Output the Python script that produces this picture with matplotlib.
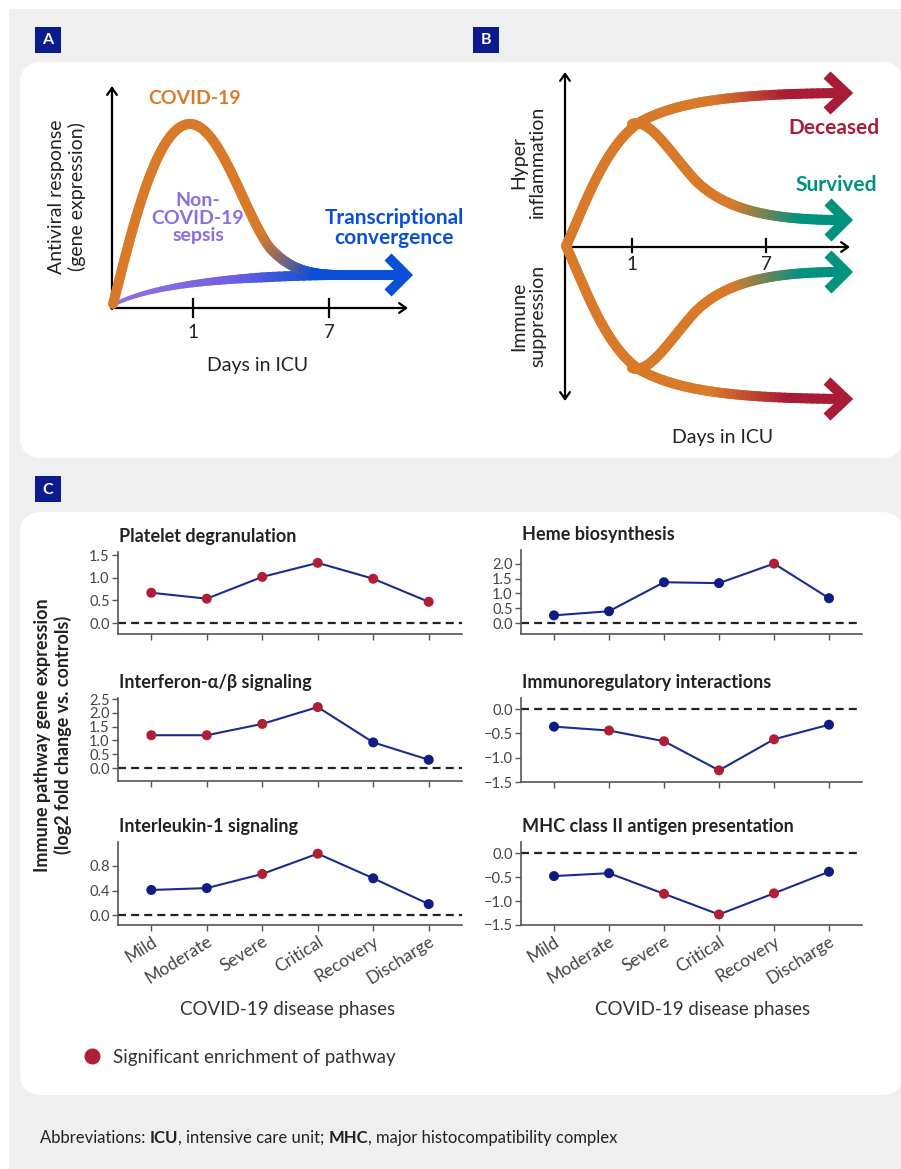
import numpy as np
import matplotlib
matplotlib.use("Agg")
import matplotlib.pyplot as plt
from matplotlib.patches import FancyBboxPatch, Rectangle
from matplotlib.collections import LineCollection
from matplotlib.colors import LinearSegmentedColormap
from matplotlib.bezier import BezierSegment
from matplotlib.ticker import FuncFormatter

plt.rcParams['font.family'] = ['Lato', 'DejaVu Sans']

# ---- panel C data (log2 fold change vs. controls) ----
phases = ["Mild", "Moderate", "Severe", "Critical", "Recovery", "Discharge"]

platelet = [0.67, 0.54, 1.02, 1.33, 0.98, 0.47]
platelet_sig = [1, 1, 1, 1, 1, 1]
heme = [0.26, 0.40, 1.38, 1.35, 2.01, 0.84]
heme_sig = [0, 0, 0, 0, 1, 0]
interferon = [1.19, 1.19, 1.60, 2.21, 0.93, 0.30]
interferon_sig = [1, 1, 1, 1, 0, 0]
immunoreg = [-0.36, -0.44, -0.66, -1.26, -0.62, -0.32]
immunoreg_sig = [0, 1, 1, 1, 1, 0]
il1 = [0.41, 0.44, 0.67, 1.00, 0.60, 0.18]
il1_sig = [0, 0, 1, 1, 0, 0]
mhc = [-0.48, -0.42, -0.85, -1.28, -0.84, -0.39]
mhc_sig = [0, 0, 1, 1, 1, 0]

ORANGE = "#d97a2b"
BLUE = "#0b4fd8"
PURPLE = "#8a6de0"
RED = "#a91c35"
TEAL = "#00917f"
NAVY = "#0b1a8c"
DOT_RED = "#b01e35"
DOT_NAVY = "#0f1d82"
LINE = "#1b2b8e"

W, H = 901, 1169
fig = plt.figure(figsize=(W / 100, H / 100), dpi=100)
fig.patch.set_facecolor("white")

# full-figure axes in pixel units (y down) for background and schematics
ax = fig.add_axes([0, 0, 1, 1], zorder=0)
ax.set_xlim(0, W)
ax.set_ylim(H, 0)
ax.set_axis_off()

ax.add_patch(Rectangle((9, 9), W, H, color="#efefef", lw=0))
for (x0, y0, w, h) in [(20, 62, 883, 396), (20, 512, 883, 583)]:
    ax.add_patch(FancyBboxPatch((x0, y0), w, h, boxstyle="round,pad=0,rounding_size=22",
                                fc="white", ec="none"))
for lab, (x0, y0) in zip("ABC", [(35, 27), (473, 27), (35, 476)]):
    ax.add_patch(Rectangle((x0, y0), 26, 26, color=NAVY, lw=0))
    ax.text(x0 + 13, y0 + 13.5, lab, color="white", fontsize=11.5, fontweight="bold",
            ha="center", va="center")


def grad_curve(pieces, c_from, c_to, x_from, x_to, lw, z=3):
    pts = np.vstack([BezierSegment(np.array(p, float))(np.linspace(0, 1, 50)) for p in pieces])
    segs = np.stack([pts[:-1], pts[1:]], axis=1)
    xm = segs[:, :, 0].mean(axis=1)
    f = np.clip((xm - x_from) / (x_to - x_from), 0, 1)
    cmap = LinearSegmentedColormap.from_list("g", c_from if isinstance(c_from, list) else [c_from, c_to])
    if callable(lw):
        lw = lw(xm)
    ax.add_collection(LineCollection(segs, colors=cmap(f), linewidths=lw,
                                     capstyle="round", joinstyle="round", zorder=z))


def chevron(tip, back, half, color):
    ax.plot([tip[0] - back, tip[0], tip[0] - back], [tip[1] - half, tip[1], tip[1] + half],
            color=color, lw=7.2, solid_joinstyle="miter", solid_capstyle="butt", zorder=4)


def axis_arrow(p_from, p_to, style="->"):
    ax.annotate("", xy=p_to, xytext=p_from,
                arrowprops=dict(arrowstyle=style + ",head_length=0.5,head_width=0.35",
                                lw=1.6, color="black", shrinkA=0, shrinkB=0))


# ---- panel A ----
axis_arrow((112, 309), (112, 86))
axis_arrow((111, 308), (408, 308))
for tx, tl in [(193, "1"), (329, "7")]:
    ax.plot([tx, tx], [299, 317], color="black", lw=1.6)
    ax.text(tx, 333, tl, fontsize=13.5, ha="center", va="center", color="#222")
ax.text(258, 366, "Days in ICU", fontsize=14, ha="center", va="center", color="#222")
ax.text(67, 197, "Antiviral response\n(gene expression)", rotation=90, fontsize=14,
        ha="center", va="center", color="#222", linespacing=1.2)

noncovid = [[(113, 305), (150, 286), (220, 277), (330, 275)], [(330, 275), (404, 275)]]
grad_curve(noncovid, [PURPLE, "#6f5fe0", BLUE], None, 150, 320,
           lambda x: 2.5 + 4.7 * np.clip((x - 113) / 150, 0, 1), z=2)
covid = [[(113, 304), (130, 240), (155, 124), (190, 124)],
         [(190, 124), (220, 124), (245, 215), (270, 248)],
         [(270, 248), (290, 270), (310, 274), (335, 275)]]
grad_curve(covid, ORANGE, BLUE, 262, 315, 7.2, z=3)
chevron((406, 275), 18, 18, BLUE)

ax.text(195, 99, "COVID-19", color=ORANGE, fontsize=14, fontweight="bold", ha="center", va="center")
ax.text(198, 218, "Non-\nCOVID-19\nsepsis", color=PURPLE, fontsize=14, fontweight="bold",
        ha="center", va="center", linespacing=1.0)
ax.text(394, 228, "Transcriptional\nconvergence", color=BLUE, fontsize=15, fontweight="bold",
        ha="center", va="center", linespacing=0.95)

# ---- panel B ----
axis_arrow((565, 401), (565, 72), "<->")
axis_arrow((565, 247), (850, 247))
for tx, tl in [(632, "1"), (766, "7")]:
    ax.plot([tx, tx], [239, 252], color="black", lw=1.6)
    ax.text(tx, 264, tl, fontsize=13.5, ha="center", va="center", color="#222")
ax.text(723, 438, "Days in ICU", fontsize=14, ha="center", va="center", color="#222")
ax.text(528, 162, "Hyper\ninflammation", rotation=90, fontsize=14, ha="center", va="center",
        color="#222", linespacing=1.15)
ax.text(528, 316, "Immune\nsuppression", rotation=90, fontsize=14, ha="center", va="center",
        color="#222", linespacing=1.15)

top_dead = [[(566, 246), (585, 205), (605, 145), (640, 122)],
            [(640, 122), (680, 100), (740, 94), (842, 93)]]
top_surv = [[(632, 124), (650, 118), (668, 150), (695, 180)],
            [(695, 180), (725, 210), (770, 220), (842, 220)]]
low_dead = [[(566, 246), (585, 287), (605, 347), (640, 370)],
            [(640, 370), (680, 392), (740, 398), (842, 399)]]
low_surv = [[(632, 368), (650, 374), (668, 342), (695, 312)],
            [(695, 312), (725, 282), (770, 272), (842, 272)]]
grad_curve(top_surv, ORANGE, TEAL, 735, 805, 7.2, z=2)
grad_curve(low_surv, ORANGE, TEAL, 735, 805, 7.2, z=2)
grad_curve(top_dead, ORANGE, RED, 715, 790, 7.2, z=3)
grad_curve(low_dead, ORANGE, RED, 715, 790, 7.2, z=3)
chevron((846, 93), 19, 18, RED)
chevron((846, 220), 18, 18, TEAL)
chevron((846, 272), 18, 18, TEAL)
chevron((846, 399), 19, 18, RED)
ax.text(834, 128, "Deceased", color=RED, fontsize=15, fontweight="bold", ha="center", va="center")
ax.text(836, 185, "Survived", color=TEAL, fontsize=15, fontweight="bold", ha="center", va="center")

# ---- panel C ----
ax.text(53, 735, "Immune pathway gene expression\n(log2 fold change vs. controls)", rotation=90,
        fontsize=13, fontweight="bold", ha="center", va="center", color="#222", linespacing=1.25)
ax.text(288, 1010, "COVID-19 disease phases", fontsize=13.5, ha="center", va="center", color="#333")
ax.text(703, 1010, "COVID-19 disease phases", fontsize=13.5, ha="center", va="center", color="#333")
ax.plot(92, 1056, "o", ms=10.5, color=DOT_RED)
ax.text(113, 1057, "Significant enrichment of pathway", fontsize=13.5, ha="left", va="center",
        color="#333")

# footer with bold abbreviations
pieces = [("Abbreviations: ", "normal"), ("ICU", "bold"), (", intensive care unit; ", "normal"),
          ("MHC", "bold"), (", major histocompatibility complex", "normal")]
prev = ax.text(40, 1138, pieces[0][0], fontsize=12, va="center", color="#222")
for txt, wt in pieces[1:]:
    prev = ax.annotate(txt, xy=(1, 0), xycoords=prev, fontsize=12, fontweight=wt,
                       va="bottom", ha="left", color="#222")

fmt = FuncFormatter(lambda v, p: f"{v:.1f}".replace("-", "\u2212"))
panels = [
    ("Platelet degranulation", platelet, platelet_sig, (118, 552, 462, 634), (-0.24, 1.57), [0, 0.5, 1.0, 1.5], False),
    ("Heme biosynthesis", heme, heme_sig, (521, 550, 862, 634), (-0.37, 2.47), [0, 0.5, 1.0, 1.5, 2.0], False),
    ("Interferon-\u03b1/\u03b2 signaling", interferon, interferon_sig, (118, 698, 462, 781), (-0.47, 2.54), [0, 0.5, 1.0, 1.5, 2.0, 2.5], False),
    ("Immunoregulatory interactions", immunoreg, immunoreg_sig, (521, 698, 862, 782), (-1.5, 0.23), [-1.5, -1.0, -0.5, 0], False),
    ("Interleukin-1 signaling", il1, il1_sig, (118, 842, 462, 925), (-0.16, 1.19), [0, 0.4, 0.8], True),
    ("MHC class II antigen presentation", mhc, mhc_sig, (521, 842, 862, 925), (-1.5, 0.23), [-1.5, -1.0, -0.5, 0], True),
]
xs = np.arange(len(phases))
for title, vals, sig, (l, t, r, b), ylim, yt, show_x in panels:
    a = fig.add_axes([l / W, 1 - b / H, (r - l) / W, (b - t) / H], zorder=1)
    a.set_facecolor("none")
    a.axhline(0, color="#222", lw=1.6, ls=(0, (3.6, 2.3)), zorder=1)
    a.plot(xs, vals, color=LINE, lw=1.5, zorder=2)
    cols = [DOT_RED if s else DOT_NAVY for s in sig]
    a.scatter(xs, vals, s=52, c=cols, zorder=3, linewidths=0)
    a.set_xlim(-0.6, 5.6)
    a.set_ylim(*ylim)
    a.set_yticks(yt)
    a.yaxis.set_major_formatter(fmt)
    a.set_xticks(xs)
    for s in ["top", "right"]:
        a.spines[s].set_visible(False)
    for s in ["left", "bottom"]:
        a.spines[s].set_color("#555")
        a.spines[s].set_linewidth(1.2)
    a.tick_params(length=4, width=1, color="#555", labelcolor="#444", labelsize=10.5, pad=2)
    if show_x:
        a.set_xticklabels(phases, rotation=32, ha="right", rotation_mode="anchor", fontsize=12.5)
    else:
        a.tick_params(axis="x", labelbottom=False)
    a.annotate(title, xy=(0, 1), xycoords="axes fraction", xytext=(1, 10), textcoords="offset pixels",
               fontsize=13, fontweight="bold", ha="left", va="baseline", color="#222")

fig.savefig("out.png", dpi=100, facecolor=fig.get_facecolor())
